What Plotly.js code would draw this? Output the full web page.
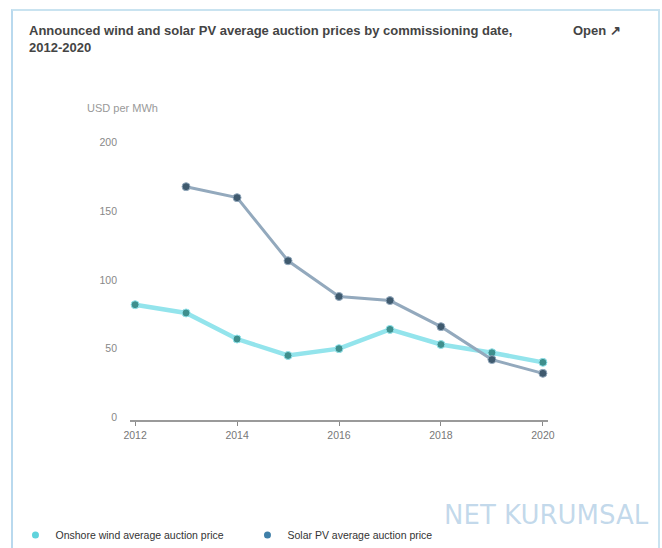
<!DOCTYPE html>
<html>
<head>
<meta charset="utf-8">
<script src="https://cdn.plot.ly/plotly-3.0.1.min.js"></script>
<style>
  html, body { margin: 0; padding: 0; background: #fff; }
  #frame { position: absolute; left: 11px; top: 9px; width: 645px; height: 560px;
           border-left: 2px solid #b9d9ee; border-top: 2px solid #c9e3f0; border-right: 2px solid #c9e3f0; }
  #chart { position: absolute; left: 0; top: 0; width: 662px; height: 548px; }
</style>
</head>
<body>
<div id="frame"></div>
<div id="chart"></div>
<script>
const years = [2012, 2013, 2014, 2015, 2016, 2017, 2018, 2019, 2020];
const windPrices = [82, 76, 57, 45, 50, 64, 53, 47, 40];
const solarYears = [2013, 2014, 2015, 2016, 2017, 2018, 2019, 2020];
const solarPrices = [168, 160, 114, 88, 85, 66, 42, 32];
const yTicks = [0, 50, 100, 150, 200];
const xTicks = [2012, 2014, 2016, 2018, 2020];
const seriesNames = ['Onshore wind average auction price', 'Solar PV average auction price'];
const lineColors = ['#93e4ec', '#93a9bd'];
const markerColors = ['#3e8f8d', '#3f5a6e'];
const legendColors = ['#5fd3dc', '#3f7fa8'];

const traces = [
  {
    x: years, y: windPrices, name: seriesNames[0], showlegend: false,
    type: 'scatter', mode: 'lines+markers',
    line: { color: lineColors[0], width: 4.5 },
    marker: { color: markerColors[0], size: 8, line: { color: lineColors[0], width: 1 } }
  },
  {
    x: solarYears, y: solarPrices, name: seriesNames[1], showlegend: false,
    type: 'scatter', mode: 'lines+markers',
    line: { color: lineColors[1], width: 3 },
    marker: { color: markerColors[1], size: 8, line: { color: lineColors[1], width: 1 } }
  },
  // legend entries (dot symbols only)
  { x: [null], y: [null], name: seriesNames[0], type: 'scatter', mode: 'markers',
    legend: 'legend', marker: { color: legendColors[0], size: 7 } },
  { x: [null], y: [null], name: seriesNames[1], type: 'scatter', mode: 'markers',
    legend: 'legend2', marker: { color: legendColors[1], size: 7 } }
];

const legendBase = {
  orientation: 'h', y: -0.411, xanchor: 'left', yanchor: 'middle',
  font: { size: 10.5, color: '#333' }, itemwidth: 30, bgcolor: 'rgba(0,0,0,0)'
};

const layout = {
  width: 662, height: 548,
  paper_bgcolor: 'rgba(0,0,0,0)', plot_bgcolor: 'rgba(0,0,0,0)',
  margin: { l: 130, r: 114, t: 140, b: 128, autoexpand: false },
  font: { family: 'Liberation Sans, Arial, sans-serif', color: '#777', size: 10 },
  showlegend: true,
  legend: Object.assign({}, legendBase, { x: -0.274 }),
  legend2: Object.assign({}, legendBase, { x: 0.281 }),
  xaxis: {
    range: [2011.9, 2020.1], tickvals: xTicks, ticktext: xTicks.map(String),
    showgrid: false, zeroline: false, showline: true, linecolor: '#9a9a9a', linewidth: 2,
    ticks: 'outside', ticklen: 4, tickcolor: '#888', tickfont: { size: 10.5, color: '#777' }
  },
  yaxis: {
    range: [-2, 202], tickvals: yTicks, ticktext: yTicks.map(String),
    showgrid: false, zeroline: false, showline: false, ticks: '',
    ticklabelstandoff: 12, tickfont: { size: 10.5, color: '#888' }
  },
  annotations: [
    { xref: 'paper', yref: 'paper', x: -0.108, y: 1.114, xanchor: 'left', yanchor: 'middle',
      text: 'USD per MWh', showarrow: false, font: { size: 11, color: '#999' } },
    { xref: 'paper', yref: 'paper', x: -0.246, y: 1.425, xanchor: 'left', yanchor: 'top', align: 'left',
      text: '<b>Announced wind and solar PV average auction prices by commissioning date,<br>2012-2020</b>',
      showarrow: false, font: { size: 13, color: '#444' } },
    { xref: 'paper', yref: 'paper', x: 1.18, y: 1.425, xanchor: 'right', yanchor: 'top',
      text: '<b>Open ↗</b>', showarrow: false, font: { size: 13, color: '#444' } },
    { xref: 'paper', yref: 'paper', x: 1.246, y: -0.339, xanchor: 'right', yanchor: 'middle',
      text: 'NET KURUMSAL', showarrow: false,
      font: { size: 26, color: 'rgba(120,170,210,0.45)', family: 'DejaVu Sans, sans-serif' } }
  ]
};

Plotly.newPlot('chart', traces, layout, { displayModeBar: false, staticPlot: true });
</script>
</body>
</html>
